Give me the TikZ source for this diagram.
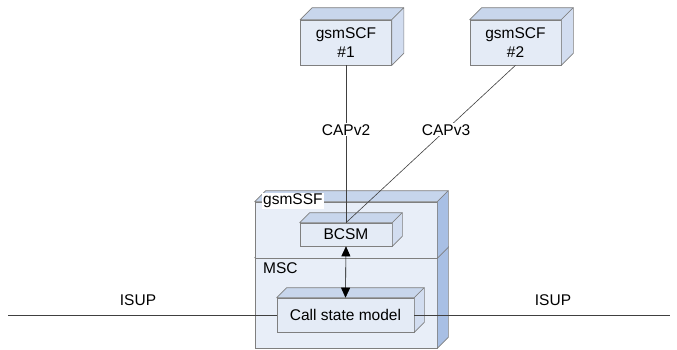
\documentclass[tikz,border=0pt]{standalone}
\usepackage{fontspec}
\setmainfont{Liberation Sans}
\usetikzlibrary{calc,arrows.meta}

\definecolor{outerfront}{HTML}{E8EEF8}
\definecolor{outertop}{HTML}{C6D5EC}
\definecolor{outerside}{HTML}{A8BFE4}
\definecolor{innerfront}{HTML}{E4EBF6}
\definecolor{innertop}{HTML}{C8D6EC}
\definecolor{innerside}{HTML}{D2DDF0}
\definecolor{edgegray}{HTML}{7F7F7F}
\definecolor{wiregray}{HTML}{404040}

% Faces of a block: top and right side, hung on the front node's corners
\newcommand\blockfaces[4]{%
  \filldraw[draw=edgegray,line width=0.6pt,fill=#3,line join=round]
    (#1.north west) -- ++(#2,-#2) -- ($(#1.north east)+(#2,-#2)$) -- (#1.north east) -- cycle;
  \filldraw[draw=edgegray,line width=0.6pt,fill=#4,line join=round]
    (#1.north east) -- ++(#2,-#2) -- ($(#1.south east)+(#2,-#2)$) -- (#1.south east) -- cycle;}

\tikzset{
  front/.style={draw=edgegray,line width=0.6pt,rectangle,inner sep=0pt,align=center,
    font=\fontsize{15.5}{19}\selectfont},
  outerblock/.style={front,fill=outerfront},
  innerblock/.style={front,fill=innerfront},
  wire/.style={draw=wiregray,line width=0.6pt},
  tag/.style={font=\fontsize{15.5}{19}\selectfont,inner sep=1pt},
  tip/.style={{Triangle[width=9pt,length=10pt]}-{Triangle[width=9pt,length=10pt]}}
}

\begin{document}
\begin{tikzpicture}[x=1pt,y=-1pt]
\useasboundingbox (0,0) rectangle (677,349);

% MSC block (lower) and gsmSSF block (upper)
\node[outerblock,minimum width=182pt,minimum height=90pt] (msc) at (346,303) {};
\blockfaces{msc}{11}{outertop}{outerside}
\node[outerblock,minimum width=182pt,minimum height=56pt] (ssf) at (346,230) {};
\blockfaces{ssf}{11}{outertop}{outerside}

\node[tag,fill=white,anchor=west] (ssflabel) at (262,201) {gsmSSF};
\node[tag,anchor=west] (msclabel) at (262,268) {MSC};

% inner blocks
\node[innerblock,minimum width=92pt,minimum height=23pt] (bcsm) at (346,234.5) {BCSM};
\blockfaces{bcsm}{10}{innertop}{innerside}
\node[innerblock,minimum width=137pt,minimum height=34pt] (csm) at (345.5,315) {Call state model};
\blockfaces{csm}{10}{innertop}{innerside}

% service control functions
\node[innerblock,minimum width=91pt,minimum height=45pt] (scf1) at (346,42.5) {gsmSCF\\\#1};
\blockfaces{scf1}{12}{innertop}{innerside}
\node[innerblock,minimum width=91pt,minimum height=45pt] (scf2) at (515.5,42.5) {gsmSCF\\\#2};
\blockfaces{scf2}{12}{innertop}{innerside}

% CAP links
\draw[wire] (scf1.south) -- (bcsm.north) node[tag,pos=0.41,fill=white] (capv2) {CAPv2};
\draw[wire] (scf2.south) -- (bcsm.north) node[tag,pos=0.41,fill=white] (capv3) {CAPv3};

% BCSM <-> call state model
\draw[wire,tip,black] (bcsm.south) -- (csm.north);

% ISUP trunks
\coordinate (isupL) at (8,315);
\coordinate (isupR) at (670,315);
\draw[wire] (isupL) -- (csm.west);
\draw[wire] (csm.east) -- (isupR);
\node[tag] (isupleft) at (138,300) {ISUP};
\node[tag] (isupright) at (553,300) {ISUP};
\end{tikzpicture}
\end{document}
